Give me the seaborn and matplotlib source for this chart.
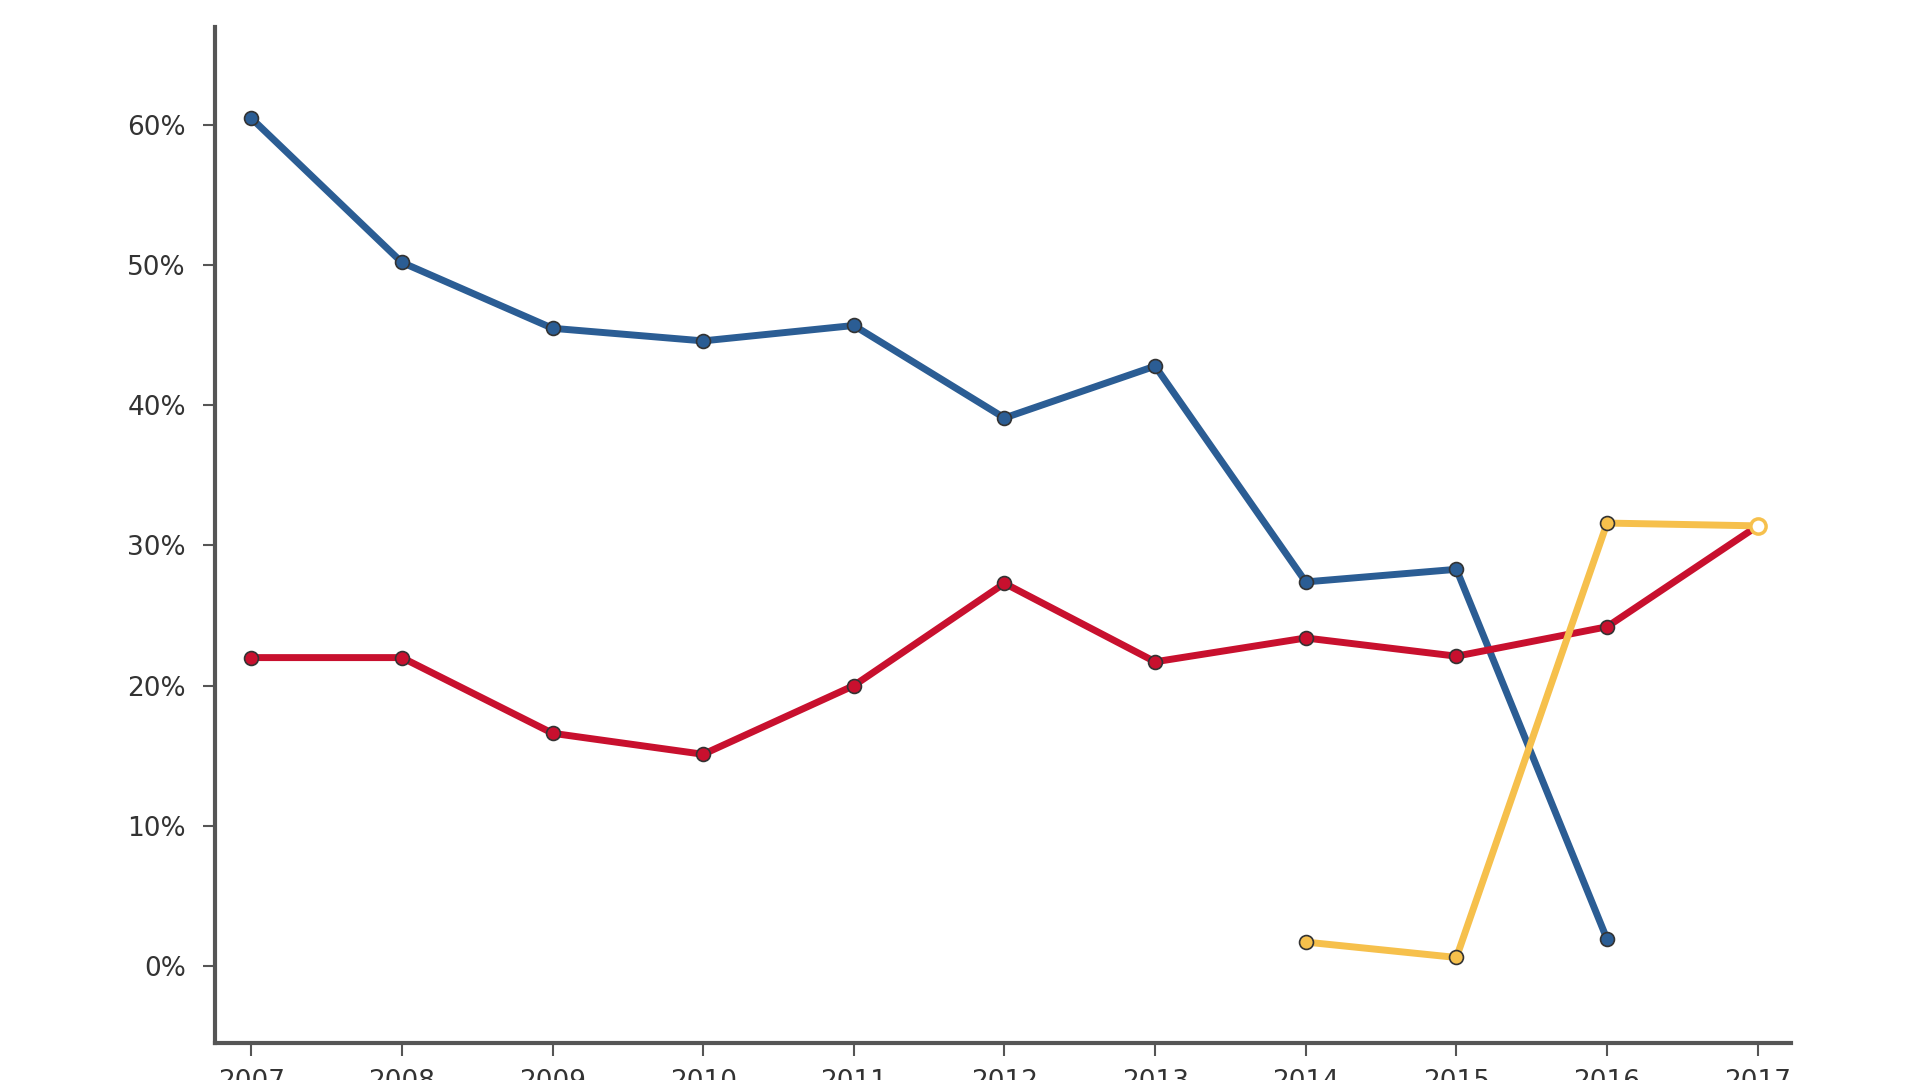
import matplotlib
matplotlib.use("Agg")
import matplotlib.pyplot as plt
import matplotlib.ticker as mticker
import numpy as np
import pandas as pd
import seaborn as sns

years = [2007, 2008, 2009, 2010, 2011, 2012, 2013, 2014, 2015, 2016, 2017]

blue_years = years[:10]
blue_vals = [60.5, 50.2, 45.5, 44.6, 45.7, 39.1, 42.8, 27.4, 28.3, 1.9]

red_years = years
red_vals = [22.0, 22.0, 16.6, 15.1, 20.0, 27.3, 21.7, 23.4, 22.1, 24.2, 31.4]

yellow_years = [2014, 2015, 2016, 2017]
yellow_vals = [1.7, 0.6, 31.6, 31.4]

y_ticks = [0, 10, 20, 30, 40, 50, 60]

blue = "#2b5d94"
red = "#c8102e"
yellow = "#f6c04c"

sns.set_style("white")
plt.rcParams["font.family"] = ["DejaVu Sans"]

fig = plt.figure(figsize=(19.17, 10.8), dpi=100)
ax = fig.add_axes([0.1122, 0.0343, 0.822, 0.9407])

def draw(xs, ys, color, zorder):
    df = pd.DataFrame({"year": xs, "value": ys})
    sns.lineplot(data=df, x="year", y="value", ax=ax, color=color,
                 linewidth=5, marker="o", markersize=10,
                 markeredgecolor="#333333", markeredgewidth=1.2,
                 markerfacecolor=color, zorder=zorder)

draw(blue_years, blue_vals, blue, 3)
draw(red_years, red_vals, red, 4)
draw(yellow_years, yellow_vals, yellow, 5)

# open marker at the last yellow point
ax.scatter([yellow_years[-1]], [yellow_vals[-1]], s=120, facecolor="white",
           edgecolor=yellow, linewidth=2.5, zorder=6)

ax.set_xlim(2006.76, 2017.22)
ax.set_ylim(-5.5, 67)
ax.set_xticks(years)
ax.set_yticks(y_ticks)
ax.yaxis.set_major_formatter(mticker.FuncFormatter(lambda v, p: f"{v:.0f}%"))
ax.set_xlabel("")
ax.set_ylabel("")

for s in ["top", "right"]:
    ax.spines[s].set_visible(False)
for s in ["left", "bottom"]:
    ax.spines[s].set_color("#555555")
    ax.spines[s].set_linewidth(3)

ax.tick_params(axis="both", which="major", direction="out", length=9,
               width=1.5, color="#555555", labelsize=19, labelcolor="#333333",
               left=True, bottom=True)
ax.tick_params(axis="y", pad=12)
ax.tick_params(axis="x", pad=10)

fig.savefig("out.png", dpi=100)
